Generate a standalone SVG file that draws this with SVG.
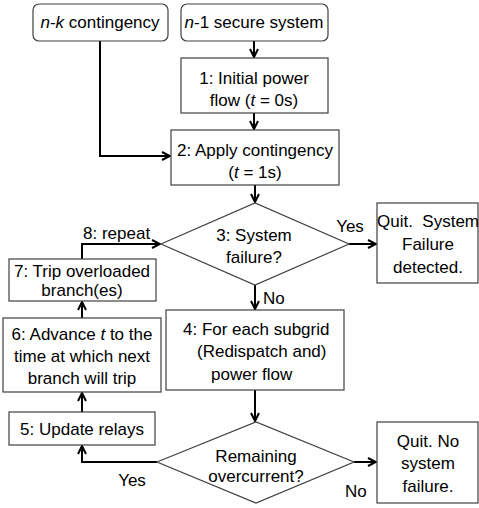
<svg xmlns="http://www.w3.org/2000/svg" width="479" height="508" viewBox="0 0 479 508">
<style>
.b{fill:#fff;stroke:#404040;stroke-width:1.2}
.c{fill:none;stroke:#000;stroke-width:2}
text{font-family:"Liberation Sans",Arial,sans-serif;font-size:17px;fill:#000}
.m{text-anchor:middle}
</style>
<defs>
<marker id="ah" viewBox="0 0 10 10" refX="9" refY="5" markerWidth="10" markerHeight="10" orient="auto" markerUnits="userSpaceOnUse">
<path d="M1,1 L9,5 L1,9" fill="none" stroke="#000" stroke-width="2"/>
</marker>
</defs>
<rect width="479" height="508" fill="#fff"/>
<g id="connectors">
<path class="c" d="M254,41 V57" marker-end="url(#ah)"/>
<path class="c" d="M254,113 V129" marker-end="url(#ah)"/>
<path class="c" d="M100,41 V156 H170" marker-end="url(#ah)"/>
<path class="c" d="M255,185 V202" marker-end="url(#ah)"/>
<path class="c" d="M349,244 H376" marker-end="url(#ah)"/>
<path class="c" d="M255,285 V309" marker-end="url(#ah)"/>
<path class="c" d="M203,374 H179 V327" marker-end="url(#ah)"/>
<path class="c" d="M255,390 V421" marker-end="url(#ah)"/>
<path class="c" d="M354,462 H376" marker-end="url(#ah)"/>
<path class="c" d="M157,462 H82 V446" marker-end="url(#ah)"/>
<path class="c" d="M82,412 V393" marker-end="url(#ah)"/>
<path class="c" d="M82,318 V302" marker-end="url(#ah)"/>
<path class="c" d="M82,259 V244 H160" marker-end="url(#ah)"/>
<text x="83" y="239">8: repeat</text>
<text class="m" x="350" y="232">Yes</text>
<text x="263" y="304">No</text>
<text class="m" x="132" y="486">Yes</text>
<text x="345" y="497">No</text>
</g>
<g id="nk">
<rect class="b" x="33" y="4" width="135" height="37" rx="6"/>
<text class="m" x="100" y="28"><tspan font-style="italic">n</tspan>-<tspan font-style="italic">k</tspan> contingency</text>
</g>
<g id="n1">
<rect class="b" x="181" y="4" width="147" height="37" rx="6"/>
<text class="m" x="254" y="28"><tspan font-style="italic">n</tspan>-1 secure system</text>
</g>
<g id="s1">
<rect class="b" x="181" y="58" width="147" height="55"/>
<text class="m" x="254" y="84">1: Initial power</text>
<text class="m" x="254" y="106">flow (<tspan font-style="italic">t</tspan> = 0s)</text>
</g>
<g id="s2">
<rect class="b" x="171" y="130" width="168" height="55"/>
<text class="m" x="255" y="156">2: Apply contingency</text>
<text class="m" x="255" y="178">(<tspan font-style="italic">t</tspan> = 1s)</text>
</g>
<g id="s3">
<polygon class="b" points="161,244 255,203 349,244 255,285"/>
<text class="m" x="254" y="241">3: System</text>
<text class="m" x="254" y="263">failure?</text>
</g>
<g id="quit1">
<rect class="b" x="377" y="203" width="101" height="80"/>
<text class="m" x="428" y="227" xml:space="preserve">Quit.  System</text>
<text class="m" x="428" y="250">Failure</text>
<text class="m" x="428" y="273">detected.</text>
</g>
<g id="s4">
<rect class="b" x="166" y="310" width="178" height="80"/>
<text x="183" y="335">4: For each subgrid</text>
<text x="197" y="357">(Redispatch and)</text>
<text x="211" y="380">power flow</text>
</g>
<g id="s5">
<polygon class="b" points="157,462 256,422 354,462 256,503"/>
<text class="m" x="256" y="462">Remaining</text>
<text class="m" x="256" y="482">overcurrent?</text>
</g>
<g id="quit2">
<rect class="b" x="377" y="422" width="101" height="81"/>
<text class="m" x="428" y="447">Quit. No</text>
<text class="m" x="428" y="469">system</text>
<text class="m" x="428" y="492">failure.</text>
</g>
<g id="r5">
<rect class="b" x="9" y="412" width="146" height="33"/>
<text class="m" x="82" y="435">5: Update relays</text>
</g>
<g id="r6">
<rect class="b" x="3" y="318" width="158" height="74"/>
<text class="m" x="82" y="340">6: Advance <tspan font-style="italic">t</tspan> to the</text>
<text class="m" x="82" y="362">time at which next</text>
<text class="m" x="82" y="384">branch will trip</text>
</g>
<g id="r7">
<rect class="b" x="9" y="259" width="147" height="42"/>
<text class="m" x="82" y="277">7: Trip overloaded</text>
<text class="m" x="82" y="296">branch(es)</text>
</g>
</svg>
